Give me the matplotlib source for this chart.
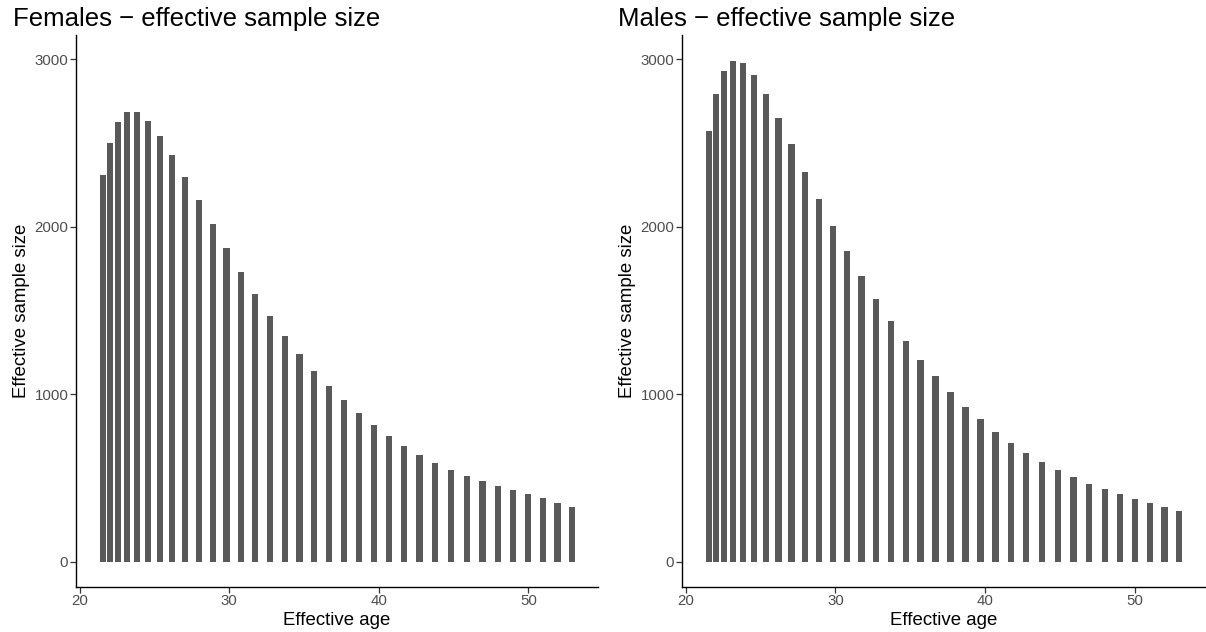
import matplotlib.pyplot as plt

plt.rcParams['font.family'] = ['Liberation Sans', 'DejaVu Sans']

# effective ages (same grid for both sexes)
ages = [21.57, 22.04, 22.58, 23.18, 23.85, 24.56, 25.38, 26.20, 27.06, 27.96,
        28.90, 29.83, 30.77, 31.74, 32.71, 33.71, 34.70, 35.68, 36.68, 37.68,
        38.68, 39.68, 40.68, 41.70, 42.72, 43.77, 44.83, 45.89, 46.94, 47.97,
        48.98, 49.99, 50.98, 51.95, 52.92]

females = [2308, 2503, 2628, 2686, 2685, 2633, 2543, 2428, 2298, 2159,
           2016, 1872, 1731, 1597, 1468, 1350, 1241, 1141, 1050, 966,
           887, 817, 749, 689, 636, 590, 548, 512, 480, 452,
           427, 403, 379, 352, 329]

males = [2574, 2793, 2933, 2990, 2979, 2909, 2796, 2652, 2494, 2329,
         2168, 2007, 1853, 1705, 1570, 1439, 1319, 1207, 1106, 1012,
         926, 849, 777, 711, 650, 596, 550, 506, 466, 432,
         402, 372, 351, 325, 303]

titles = ['Females \u2212 effective sample size', 'Males \u2212 effective sample size']

W, H = 1206, 632
fig = plt.figure(figsize=(W / 100, H / 100), dpi=100)

# panel boxes in pixels: left, right, top, bottom
boxes = [(76, 598, 35, 586.7), (682, 1205, 35, 586.7)]
title_x = [13, 618]

for i, (vals, box) in enumerate(zip([females, males], boxes)):
    l, r, t, b = box
    ax = fig.add_axes([l / W, 1 - b / H, (r - l) / W, (b - t) / H])
    ax.bar(ages, vals, width=0.42, color='#595959', linewidth=0)
    ax.set_xlim(19.76, 54.66)
    ax.set_ylim(-150, 3146)
    ax.set_xticks([20, 30, 40, 50])
    ax.set_yticks([0, 1000, 2000, 3000])
    for s in ['top', 'right']:
        ax.spines[s].set_visible(False)
    for s in ['left', 'bottom']:
        ax.spines[s].set_linewidth(1.0)
        ax.spines[s].set_color('black')
    ax.tick_params(axis='both', length=4, width=0.9, color='#333333',
                   labelcolor='#4D4D4D', labelsize=10.8, pad=1.5)
    ax.set_xlabel('Effective age', fontsize=13.4)
    ax.set_ylabel('Effective sample size', fontsize=13.4)
    ax.xaxis.set_label_coords(0.5, -0.046)
    ax.yaxis.set_label_coords(-0.088, 0.5)
    fig.text(title_x[i] / W, 1 - 19 / H, titles[i], fontsize=18.5,
             ha='left', va='center')

fig.savefig('out.png', dpi=100, facecolor='white')
